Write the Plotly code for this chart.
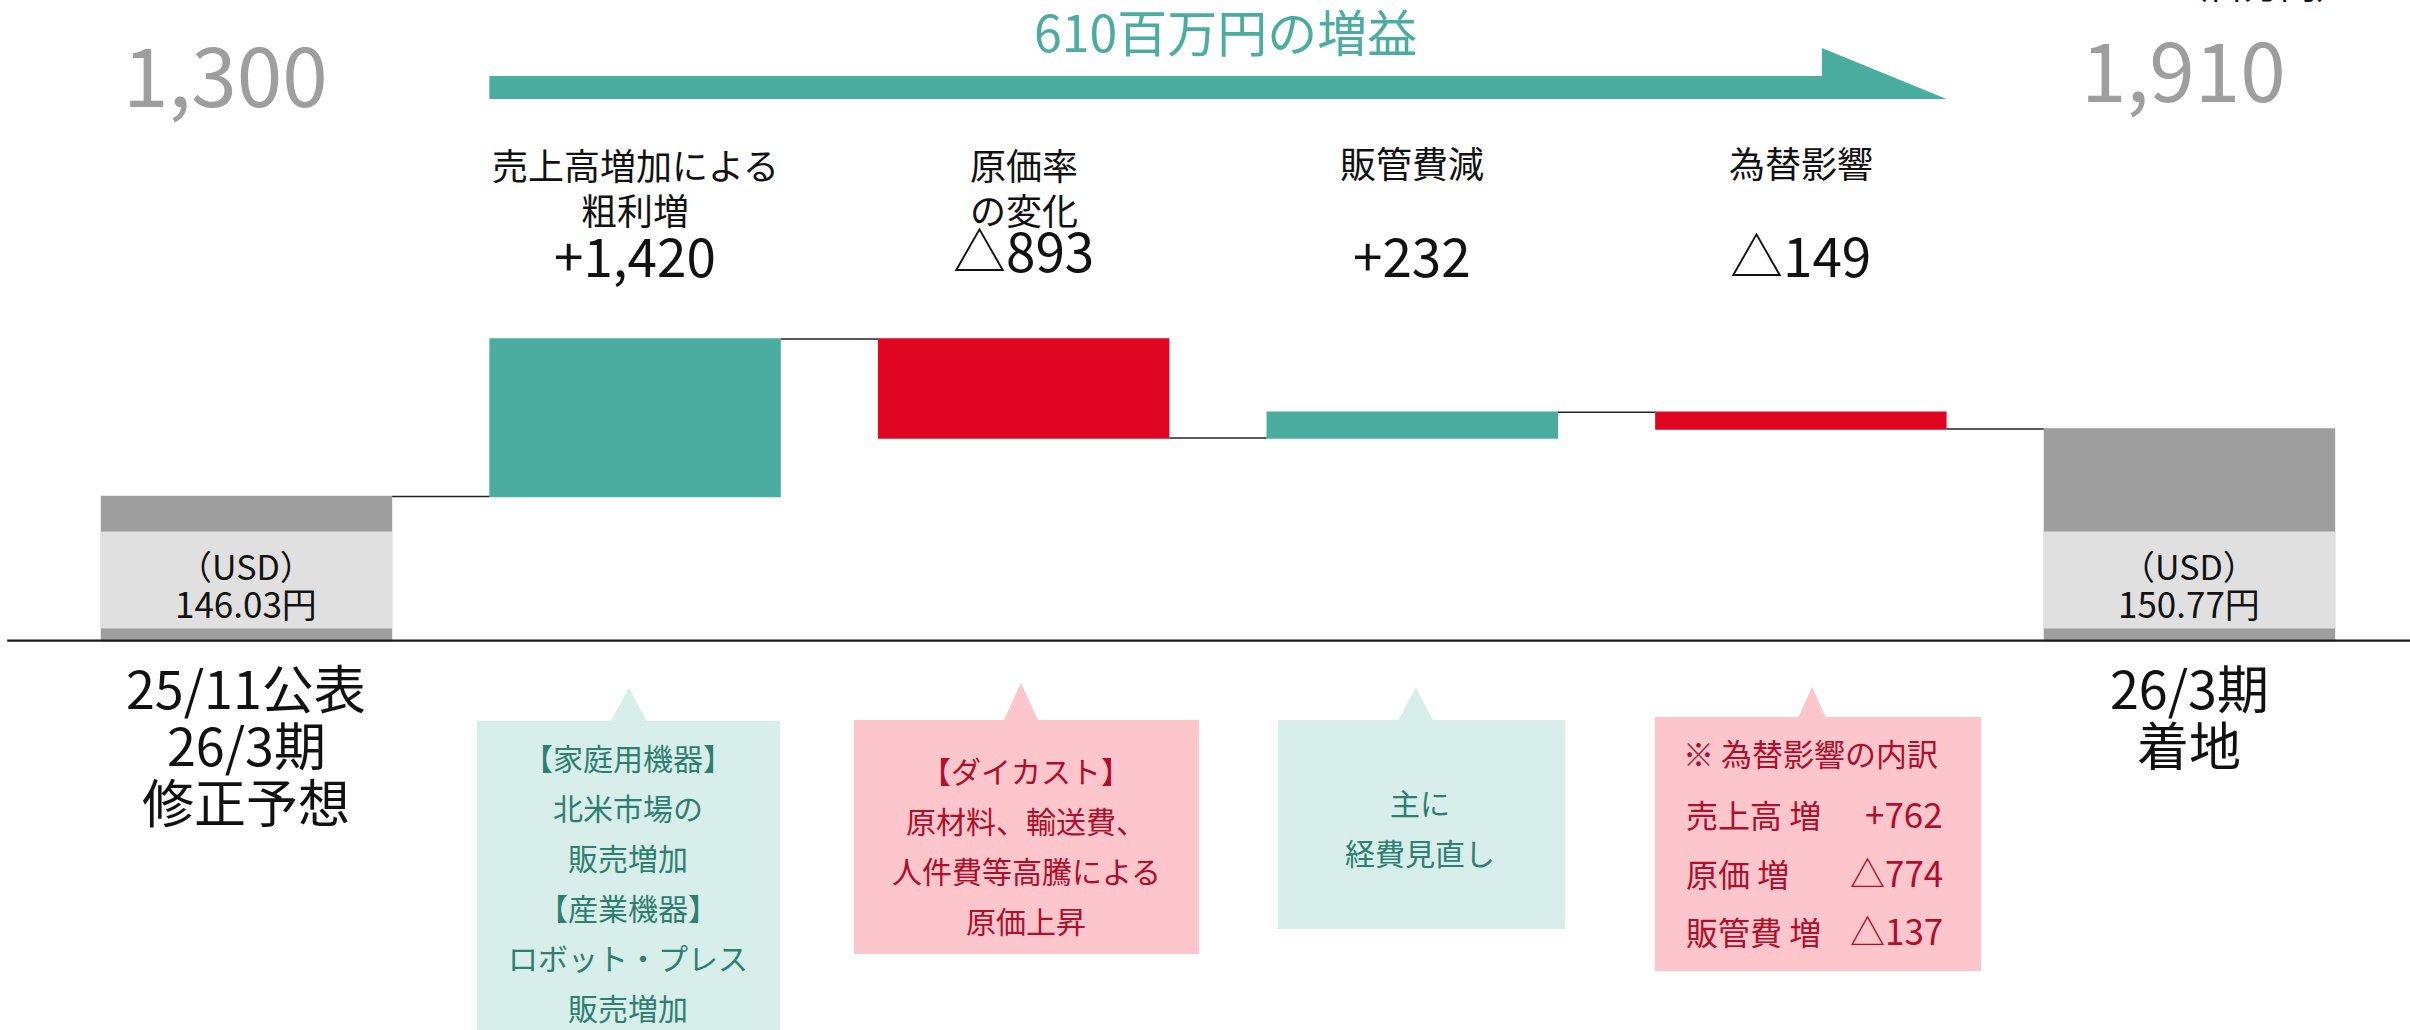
import plotly.graph_objects as go

# ---------------- data ----------------
start_label = ["25/11公表", "26/3期", "修正予想"]
end_label = ["26/3期", "着地"]
step_labels = [["売上高増加による", "粗利増"], ["原価率", "の変化"], ["販管費減"], ["為替影響"]]
values = [1300, 1420, -893, 232, -149, 1910]
measures = ["absolute", "relative", "relative", "relative", "relative", "total"]
usd_rates = [146.03, 150.77]
unit_label = "（百万円）"
notes = [
    ["【家庭用機器】", "北米市場の", "販売増加", "【産業機器】", "ロボット・プレス", "販売増加"],
    ["【ダイカスト】", "原材料、輸送費、", "人件費等高騰による", "原価上昇"],
    ["主に", "経費見直し"],
]
fx_title = "※ 為替影響の内訳"
fx_items = ["売上高 増", "原価 増", "販管費 増"]
fx_values = [762, -774, -137]

# ---------------- style ----------------
W, H = 2410, 1030
FONT = "Noto Sans CJK JP"
TEAL = "#4AAD9F"
RED = "#E00622"
GRAY_DARK = "#9E9E9E"
GRAY_LIGHT = "#E0E0E0"
TEAL_BG = "#D8EEEA"
TEAL_TXT = "#2E7F70"
PINK_BG = "#FCC6CC"
RED_TXT = "#AF0F2B"
BAR_W = 0.75


def fmt(v):
    return ("+" if v > 0 else "△") + f"{abs(v):,}"


def py(p):
    """pixel row -> paper y"""
    return 1 - p / H


total_end = sum(values[:-1])
gain = total_end - values[0]

fig = go.Figure()
fig.add_trace(go.Waterfall(
    x=list(range(len(values))), y=values, measure=measures,
    increasing=dict(marker=dict(color=TEAL, line=dict(width=0))),
    decreasing=dict(marker=dict(color=RED, line=dict(width=0))),
    totals=dict(marker=dict(color=GRAY_DARK, line=dict(width=0))),
    connector=dict(mode="between", line=dict(color="#222222", width=1.5)),
    textinfo="none", hoverinfo="skip", showlegend=False,
))

shapes = []
anns = []


def ann(text, x, p, size, color, xref="x", xanchor="center", xshift=0):
    anns.append(dict(text=text, x=x, y=py(p), xref=xref, yref="paper",
                     xanchor=xanchor, yanchor="middle", showarrow=False,
                     xshift=xshift,
                     font=dict(size=size, color=color, family=FONT)))


# light bands on the total bars holding the USD rate
for i, rate in zip([0, len(values) - 1], usd_rates):
    shapes.append(dict(type="rect", xref="x", yref="y", x0=i - BAR_W / 2, x1=i + BAR_W / 2,
                       y0=110, y1=985, fillcolor=GRAY_LIGHT, line=dict(width=0), layer="above"))
    ann("（USD）", i, 565, 34, "#111111")
    ann(f"{rate:.2f}円", i, 602, 35, "#111111")

# baseline
shapes.append(dict(type="line", xref="paper", yref="y", x0=0.003, x1=1, y0=0, y1=0,
                   line=dict(color="#1a1a1a", width=2.2), layer="above"))

# top arrow
x0a, xha, xta = 1 - BAR_W / 2, 4.054, 4 + BAR_W / 2
shapes.append(dict(type="path", xref="x", yref="paper",
                   path=f"M {x0a},{py(76)} L {xha},{py(76)} L {xha},{py(48)} L {xta},{py(99)} L {x0a},{py(99)} Z",
                   fillcolor=TEAL, line=dict(width=0)))
ann(f"{gain}百万円の増益", 2.5, 30, 50, TEAL, xshift=8)

# start / end values
ann(f"{values[0]:,}", 0, 71, 82, GRAY_DARK, xshift=-21)
ann(f"{total_end:,}", len(values) - 1, 66, 82, GRAY_DARK, xshift=-6)
ann(unit_label, 2262 / W, -17, 36, "#111111", xref="paper")

# step labels
for k, (lab, v) in enumerate(zip(step_labels, values[1:-1])):
    i = k + 1
    if len(lab) == 2:
        ann(lab[0], i, 164, 36, "#111111")
        ann(lab[1], i, 209, 36, "#111111")
    else:
        ann(lab[0], i, 162, 36, "#111111")
    ann(fmt(v), i, 249 if len(lab) == 2 and v < 0 else 254, 53, "#111111")

# category labels under baseline
for line, p in zip(start_label, [686, 743, 800]):
    ann(line, 0, p, 52, "#111111")
for line, p in zip(end_label, [686, 743]):
    ann(line, len(values) - 1, p, 52, "#111111")


# callout boxes
def callout(x0, x1, top, bottom, ax, ay, half, color):
    path = (f"M {x0},{py(top)} L {ax - half},{py(top)} L {ax},{py(ay)} L {ax + half},{py(top)} "
            f"L {x1},{py(top)} L {x1},{py(bottom)} L {x0},{py(bottom)} Z")
    shapes.append(dict(type="path", xref="x", yref="paper", path=path,
                       fillcolor=color, line=dict(width=0), layer="below"))


callout(0.593, 1.373, 721, 1060, 0.984, 688, 0.046, TEAL_BG)
for line, p in zip(notes[0], [757, 807, 857, 907, 957, 1007]):
    ann(line, 0.983, p, 30, TEAL_TXT)

callout(1.563, 2.451, 720, 954, 1.993, 683, 0.044, PINK_BG)
for line, p in zip(notes[1], [770, 820, 870, 920]):
    ann(line, 2.007, p, 30, RED_TXT)

callout(2.654, 3.393, 720, 929, 3.009, 687, 0.044, TEAL_BG)
for line, p in zip(notes[2], [802, 852]):
    ann(line, 3.02, p, 30, TEAL_TXT)

callout(3.624, 4.464, 717, 971, 4.029, 687, 0.035, PINK_BG)
ann(fx_title, 3.692, 752, 31, RED_TXT, xanchor="left")
for item, v, p in zip(fx_items, fx_values, [814, 873, 931]):
    ann(item, 3.700, p, 32, RED_TXT, xanchor="left")
    ann(fmt(v), 4.372, p - 2, 35, RED_TXT, xanchor="right")

fig.update_layout(
    width=W, height=H,
    margin=dict(l=0, r=0, t=0, b=0, pad=0),
    paper_bgcolor="white", plot_bgcolor="white",
    waterfallgap=1 - BAR_W,
    xaxis=dict(visible=False, range=[-0.6343, 5.5675], fixedrange=True),
    yaxis=dict(visible=False, range=[-3510, 5777], fixedrange=True),
    shapes=shapes, annotations=anns,
    font=dict(family=FONT),
    showlegend=False,
)

fig.write_html("out.html", config={"displayModeBar": False},
               post_script="document.body.style.margin='0';document.body.style.overflow='hidden';")
